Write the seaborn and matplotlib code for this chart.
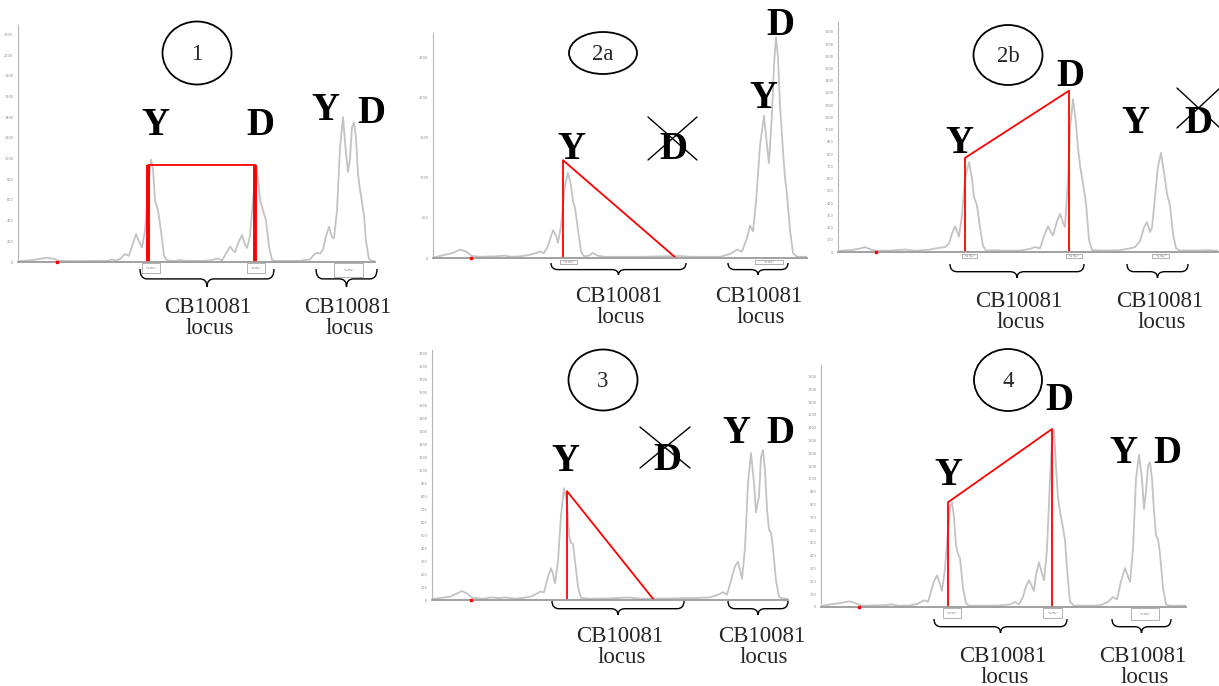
import numpy as np
import pandas as pd
import matplotlib
matplotlib.use("Agg")
import matplotlib.pyplot as plt
import seaborn as sns
from matplotlib.patches import Ellipse, PathPatch, Rectangle
from matplotlib.path import Path
from matplotlib.ticker import MultipleLocator

# ---- electropherogram traces (x = position along size axis, y = signal) ----
p1_x = [20, 30, 40, 47, 54, 60, 75, 90, 100, 108, 112, 116, 120, 125, 129, 133, 136, 139, 142, 145,
        148, 151, 153, 155, 158, 161, 164, 167, 175, 180, 185, 200, 210, 218, 222, 226, 230, 233,
        235, 238, 242, 245, 247, 250, 253, 256, 258, 260, 263, 266, 269, 272, 276, 290, 300, 310,
        314, 317, 320, 323, 326, 329, 332, 334, 337, 340, 343, 346, 348, 350, 352, 354, 356, 358,
        360, 362, 364, 366, 369, 372, 375]
p1_y = [10, 15, 30, 42, 30, 10, 8, 10, 12, 10, 25, 12, 30, 75, 60, 180, 270, 200, 140, 300,
        700, 990, 900, 600, 500, 300, 60, 15, 10, 20, 12, 10, 15, 35, 15, 80, 150, 110,
        95, 180, 260, 170, 135, 250, 600, 940, 800, 600, 500, 400, 150, 20, 10, 10, 12, 25,
        70, 90, 80, 120, 250, 340, 240, 230, 500, 1100, 1400, 1050, 870, 1000, 1300, 1350, 1200, 850,
        700, 580, 450, 200, 30, 10, 10]

p2a_x = [435, 445, 452, 460, 466, 472, 480, 495, 505, 510, 520, 530, 536, 540, 544, 548, 553, 556,
         558, 561, 565, 568, 571, 573, 575, 578, 581, 584, 589, 593, 597, 605, 640, 660, 680, 690,
         720, 730, 737, 742, 747, 750, 753, 756, 760, 764, 767, 769, 772, 774, 776, 778, 780, 783,
         785, 787, 790, 793, 797, 807]
p2a_y = [10, 40, 60, 104, 80, 25, 15, 20, 30, 15, 20, 40, 60, 83, 60, 150, 346, 280,
         190, 400, 900, 1062, 900, 700, 625, 350, 80, 20, 30, 62, 30, 15, 15, 20, 25, 15,
         15, 50, 104, 80, 250, 404, 330, 700, 1400, 1770, 1400, 1180, 1800, 2400, 2750, 2500, 1900, 1333,
         1000, 790, 350, 60, 15, 15]

p2b_x = [840, 850, 858, 865, 871, 876, 890, 905, 915, 930, 940, 945, 949, 952, 955, 957, 959, 962,
         965, 969, 972, 974, 977, 980, 983, 986, 995, 1005, 1020, 1030, 1035, 1040, 1044, 1048, 1051,
         1053, 1057, 1060, 1063, 1065, 1068, 1070, 1073, 1076, 1078, 1080, 1083, 1086, 1089, 1092,
         1105, 1120, 1130, 1135, 1140, 1144, 1147, 1150, 1152, 1155, 1158, 1161, 1164, 1167, 1170,
         1173, 1176, 1180, 1195, 1210, 1218]
p2b_y = [10, 15, 25, 40, 20, 10, 12, 20, 10, 20, 35, 40, 70, 150, 210, 170, 125, 300,
         600, 734, 600, 450, 380, 200, 50, 12, 15, 10, 12, 25, 40, 30, 130, 212, 160,
         136, 250, 312, 240, 204, 600, 1000, 1250, 1050, 850, 707, 560, 400, 100, 15,
         12, 15, 30, 40, 90, 200, 245, 163, 200, 450, 700, 810, 650, 475, 380,
         150, 30, 12, 12, 15, 10]

p3_x = [434, 440, 450, 457, 462, 467, 473, 485, 490, 500, 505, 515, 525, 532, 537, 540, 544, 548,
        551, 553, 555, 558, 561, 564, 567, 569, 571, 573, 575, 578, 581, 590, 610, 628, 640, 670,
        695, 710, 718, 723, 727, 731, 735, 738, 741, 742, 745, 748, 751, 754, 756, 759, 761, 763,
        765, 767, 769, 771, 773, 776, 779, 783, 788]
p3_y = [10, 15, 25, 50, 69, 50, 15, 10, 20, 15, 20, 10, 18, 30, 50, 64, 60, 180,
        244, 200, 128, 300, 650, 860, 750, 500, 440, 430, 300, 100, 15, 10, 12, 20, 10, 12,
        15, 20, 40, 60, 40, 150, 260, 295, 200, 162, 400, 900, 1133, 900, 674, 800, 1100, 1154,
        1000, 700, 540, 520, 400, 150, 25, 10, 10]

p4_x = [823, 830, 840, 846, 850, 855, 862, 875, 885, 892, 898, 910, 918, 922, 925, 928, 931, 934,
        937, 940, 942, 945, 948, 950, 952, 954, 956, 958, 960, 963, 966, 969, 985, 1000, 1010, 1015,
        1019, 1023, 1026, 1029, 1032, 1034, 1036, 1039, 1042, 1044, 1047, 1050, 1052, 1054, 1056,
        1058, 1061, 1063, 1065, 1067, 1070, 1074, 1090, 1100, 1108, 1113, 1117, 1121, 1125, 1128,
        1130, 1133, 1136, 1139, 1142, 1144, 1146, 1148, 1150, 1152, 1154, 1156, 1158, 1160, 1163,
        1166, 1170, 1186]
p4_y = [10, 20, 30, 40, 44, 30, 10, 12, 15, 21, 10, 12, 25, 45, 52, 40, 120, 200,
        247, 180, 125, 300, 600, 780, 818, 700, 480, 415, 380, 150, 30, 10, 10, 12, 20, 39,
        20, 80, 160, 208, 160, 125, 250, 350, 260, 208, 450, 1000, 1300, 1382, 1100,
        850, 700, 620, 520, 300, 40, 10, 10, 12, 40, 78, 60, 200, 304, 240,
        195, 450, 1000, 1190, 1000, 766, 900, 1100, 1130, 1000, 750, 560, 532, 415, 150,
        20, 10, 10]

# ---- red guide lines joining the allele peaks ----
p1_red_x = [148, 148, 255, 255]
p1_red_y = [0, 940, 940, 0]
p2a_red_x = [563, 563, 676]
p2a_red_y = [0, 1217, 0]
p2b_red_x = [965, 965, 1069, 1069]
p2b_red_y = [0, 769, 1318, 0]
p3_red_x = [567, 567, 654]
p3_red_y = [0, 838, 0]
p4_red_x = [948, 948, 1052, 1052]
p4_red_y = [0, 818, 1390, 0]

# size-standard marker on the baseline
dot_x = {"1": 57, "2a": 471, "2b": 876, "3": 471, "4": 859}

W, H = 1219, 686
sns.set_style("white")
plt.rcParams["font.family"] = ["DejaVu Sans"]
SERIF = ["Liberation Serif", "DejaVu Serif"]
TRACE = "#c3c3c3"
RED = "#ff0000"

fig = plt.figure(figsize=(W / 100, H / 100), dpi=100)

# name, (left, right, top, bottom) in px, ymax, major, minor, trace, red line
panels = [
    ("1", (18, 375, 25, 262), 2290, 200, None, p1_x, p1_y, p1_red_x, p1_red_y),
    ("2a", (433, 807, 33, 258), 2800, 500, 100, p2a_x, p2a_y, p2a_red_x, p2a_red_y),
    ("2b", (838, 1218, 22, 252), 1880, 100, 50, p2b_x, p2b_y, p2b_red_x, p2b_red_y),
    ("3", (432, 788, 350, 600), 1925, 100, 50, p3_x, p3_y, p3_red_x, p3_red_y),
    ("4", (821, 1186, 365, 607), 1890, 100, 50, p4_x, p4_y, p4_red_x, p4_red_y),
]

for name, (l, r, t, b), ymax, major, minor, tx, ty, rx, ry in panels:
    ax = fig.add_axes([l / W, 1 - b / H, (r - l) / W, (b - t) / H], facecolor="none")
    df = pd.DataFrame({"x": tx, "y": ty})
    sns.lineplot(data=df, x="x", y="y", ax=ax, color=TRACE, lw=1.3,
                 estimator=None, sort=False)
    red = pd.DataFrame({"x": rx, "y": ry})
    sns.lineplot(data=red, x="x", y="y", ax=ax, color=RED, lw=1.3,
                 estimator=None, sort=False)
    if name == "1":
        # thick vertical bars in panel 1
        for i in (0, 2):
            ax.plot(rx[i:i + 2], ry[i:i + 2], color=RED, lw=2.8, solid_capstyle="butt")
    ax.plot([dot_x[name]], [0], marker="s", ms=1.8, color=RED, clip_on=False, zorder=5)
    ax.set_xlim(l, r)
    ax.set_ylim(0, ymax)
    ax.set_xlabel("")
    ax.set_ylabel("")
    ax.set_xticks([])
    ax.yaxis.set_major_locator(MultipleLocator(major))
    if minor:
        ax.yaxis.set_minor_locator(MultipleLocator(minor))
    ax.tick_params(axis="y", which="major", labelsize=2.5, labelcolor="#888888",
                   color="#aaaaaa", length=2.5, width=0.5, pad=1)
    ax.tick_params(axis="y", which="minor", color="#bbbbbb", length=1.5, width=0.4)
    for s in ("top", "right"):
        ax.spines[s].set_visible(False)
    ax.spines["left"].set_color("#b5b5b5")
    ax.spines["left"].set_linewidth(0.8)
    ax.spines["bottom"].set_color("#9a9a9a")
    ax.spines["bottom"].set_linewidth(1.3)

# ---- annotation layer in pixel coordinates ----
ov = fig.add_axes([0, 0, 1, 1], facecolor="none")
ov.set_xlim(0, W)
ov.set_ylim(H, 0)
ov.axis("off")


def brace(x0, x1, y0, y1):
    xm = (x0 + x1) / 2
    ym = y0 + (y1 - y0) * 0.55
    q = 7
    verts = [(x0, y0), (x0, ym), (x0 + q, ym), (xm - q, ym), (xm, ym), (xm, y1),
             (xm, ym), (xm + q, ym), (x1 - q, ym), (x1, ym), (x1, y0)]
    codes = [Path.MOVETO, Path.CURVE3, Path.CURVE3, Path.LINETO, Path.CURVE3, Path.CURVE3,
             Path.CURVE3, Path.CURVE3, Path.LINETO, Path.CURVE3, Path.CURVE3]
    ov.add_patch(PathPatch(Path(verts, codes), fill=False, lw=1.0, ec="black"))


def big(x, y, s):
    ov.text(x, y, s, ha="center", va="baseline", fontsize=28, fontweight="bold",
            family=SERIF, color="black")


def cross(x0, y0, x1, y1):
    ov.plot([x0, x1], [y0, y1], color="black", lw=1.0)
    ov.plot([x0, x1], [y1, y0], color="black", lw=1.0)


def locus(x, y):
    ov.text(x, y, "CB10081", ha="center", va="baseline", fontsize=16.5, family=SERIF)
    ov.text(x + 2, y + 21, "locus", ha="center", va="baseline", fontsize=16.5, family=SERIF)


def badge(cx, cy, w, h, s):
    ov.add_patch(Ellipse((cx, cy), w, h, fill=False, lw=1.3, ec="black"))
    ov.text(cx, cy + 7, s, ha="center", va="baseline", fontsize=16.5, family=SERIF)


def tag(x0, x1, y0, y1):
    ov.add_patch(Rectangle((x0, y0), x1 - x0, y1 - y0, fill=False, lw=0.4, ec="#777777"))
    ov.text((x0 + x1) / 2, (y0 + y1) / 2, "bp 152.4\nht 985", ha="center", va="center",
            fontsize=1.6, color="#666666")


# panel 1
badge(197, 53, 69, 63, "1")
big(155, 135, "Y"); big(260, 135, "D"); big(325, 120, "Y"); big(371, 123, "D")
brace(140, 274, 269, 287); brace(316, 377, 269, 287)
locus(208, 313); locus(348, 313)
tag(142, 160, 263, 273); tag(247, 265, 263, 273); tag(334, 363, 263, 277)

# panel 2a
badge(603, 53, 68, 42, "2a")
big(571, 159, "Y"); big(673, 159, "D"); cross(648, 117, 697, 160)
big(763, 108, "Y"); big(780, 35, "D")
brace(551, 686, 263, 275); brace(728, 788, 263, 275)
locus(619, 302); locus(759, 302)
tag(560, 577, 260, 264); tag(755, 783, 260, 264)

# panel 2b
badge(1008, 55, 69, 60, "2b")
big(959, 153, "Y"); big(1070, 86, "D"); big(1135, 133, "Y"); big(1198, 133, "D")
cross(1177, 88, 1220, 128)
brace(950, 1084, 264, 278); brace(1127, 1188, 264, 278)
locus(1019, 307); locus(1160, 307)
tag(962, 977, 254, 258); tag(1066, 1082, 254, 258); tag(1152, 1169, 254, 258)

# panel 3
badge(603, 380, 69, 61, "3")
big(565, 471, "Y"); big(667, 470, "D"); cross(640, 427, 690, 468)
big(736, 443, "Y"); big(780, 443, "D")
brace(552, 684, 601, 615); brace(728, 788, 601, 615)
locus(620, 642); locus(762, 642)

# panel 4
badge(1008, 380, 68, 62, "4")
big(948, 485, "Y"); big(1059, 410, "D"); big(1123, 463, "Y"); big(1167, 463, "D")
brace(934, 1067, 619, 633); brace(1112, 1171, 619, 633)
locus(1003, 662); locus(1143, 662)
tag(943, 961, 608, 618); tag(1043, 1062, 608, 618); tag(1131, 1159, 608, 620)

fig.savefig("out.png", dpi=100)
